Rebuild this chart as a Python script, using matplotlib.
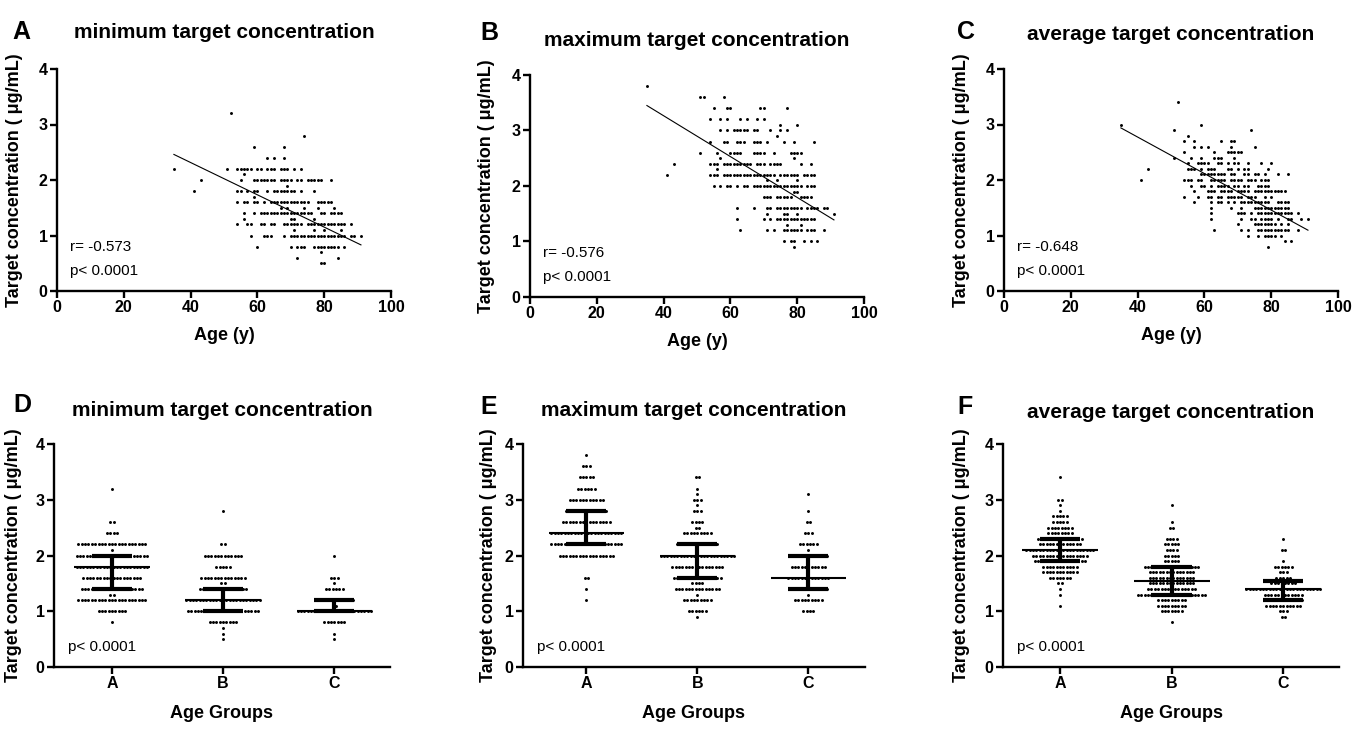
import matplotlib
matplotlib.use('Agg')
import matplotlib.pyplot as plt
import numpy as np

plt.rcParams['font.family'] = ['Liberation Sans', 'DejaVu Sans']
plt.rcParams['font.weight'] = 'bold'

# ---------------- data: scatter panels (concentration level -> ages) ----------------
min_rows = {
    3.2: [52],
    2.8: [74],
    2.6: [59, 68],
    2.4: [63, 65, 68],
    2.2: [35, 51, 54, 55, 56, 57, 58, 60, 61, 63, 64, 65, 67, 68, 69, 71, 73],
    2.1: [56],
    2.0: [43, 55, 59, 60, 61, 62, 63, 64, 65, 67, 68, 69, 70, 72, 73, 75, 76, 77, 78, 79, 82],
    1.9: [69],
    1.8: [41, 54, 55, 57, 59, 60, 63, 65, 66, 67, 68, 69, 70, 71, 73, 77],
    1.7: [59],
    1.6: [54, 56, 57, 59, 60, 62, 64, 65, 66, 67, 68, 69, 70, 71, 72, 73, 74, 75, 78, 79, 80, 81, 82],
    1.5: [67, 69, 74, 78, 83],
    1.4: [56, 59, 61, 62, 63, 64, 65, 66, 67, 68, 69, 70, 71, 72, 73, 74, 75, 76, 79, 80, 82, 83, 84, 85],
    1.3: [56, 70, 71, 77],
    1.2: [54, 57, 58, 61, 62, 64, 65, 68, 69, 70, 71, 72, 73, 75, 76, 77, 78, 79, 80, 81, 82, 83, 84, 85, 86, 88],
    1.1: [71, 77, 80, 85],
    1.0: [58, 62, 63, 64, 68, 70, 71, 72, 73, 74, 75, 76, 77, 78, 79, 80, 81, 82, 83, 84, 85, 86, 88, 89, 91],
    0.8: [60, 70, 72, 73, 74, 77, 78, 79, 80, 81, 82, 83, 84, 86],
    0.7: [79],
    0.6: [72, 84],
    0.5: [79, 80],
}

max_rows = {
    3.8: [35],
    3.6: [51, 52, 58],
    3.4: [55, 59, 60, 69, 70, 77],
    3.2: [54, 57, 59, 63, 65, 68, 70],
    3.1: [75, 80],
    3.0: [57, 59, 61, 62, 63, 64, 65, 67, 68, 72, 75, 77],
    2.9: [74],
    2.8: [54, 58, 59, 62, 63, 64, 67, 68, 69, 71, 76, 79, 85],
    2.6: [51, 56, 60, 61, 62, 63, 67, 68, 69, 70, 73, 78, 79, 80, 81],
    2.5: [57, 79],
    2.4: [43, 54, 55, 56, 58, 59, 60, 61, 62, 63, 64, 65, 66, 68, 69, 70, 72, 73, 74, 75, 81, 84],
    2.3: [56],
    2.2: [41, 54, 55, 56, 58, 59, 60, 61, 62, 63, 64, 65, 66, 67, 68, 69, 70, 71, 72, 73,
          75, 76, 77, 78, 79, 80, 82, 83, 84, 85],
    2.1: [71, 74, 80],
    2.0: [55, 57, 59, 60, 62, 64, 65, 67, 68, 69, 70, 71, 72, 73, 74, 75, 76, 77, 78, 79, 80, 81,
          83, 84, 85],
    1.9: [79, 80],
    1.8: [70, 71, 72, 74, 75, 76, 77, 78, 81, 82, 83, 84],
    1.6: [62, 67, 71, 72, 74, 75, 76, 77, 78, 79, 80, 81, 83, 84, 85, 86, 88, 89],
    1.5: [71, 76, 77, 80, 91],
    1.4: [62, 70, 72, 74, 75, 76, 77, 78, 79, 80, 81, 82, 83, 84, 85],
    1.3: [77, 81],
    1.2: [63, 71, 73, 76, 77, 78, 79, 80, 81, 83, 84, 85, 88],
    1.0: [76, 78, 79, 82, 84, 86],
    0.9: [79],
}

avg_rows = {
    3.4: [52],
    3.0: [35, 59],
    2.9: [51, 74],
    2.8: [55],
    2.7: [54, 57, 65, 68, 69],
    2.6: [57, 59, 61, 68, 75],
    2.5: [54, 63, 67, 68, 69, 70, 71],
    2.4: [51, 56, 59, 63, 64, 65, 69],
    2.3: [55, 58, 59, 60, 61, 64, 65, 67, 69, 70, 73, 77, 80],
    2.2: [43, 55, 56, 57, 59, 61, 62, 63, 67, 68, 70, 72, 73, 79],
    2.1: [59, 60, 61, 62, 63, 64, 65, 66, 68, 69, 72, 73, 75, 76, 78, 82, 85],
    2.0: [41, 54, 55, 56, 58, 59, 62, 63, 64, 65, 66, 68, 69, 70, 71, 73, 74, 75, 77, 78, 79],
    1.9: [56, 59, 60, 62, 64, 65, 66, 67, 69, 70, 72, 73, 76, 77, 78, 79],
    1.8: [57, 61, 62, 63, 65, 66, 67, 68, 70, 71, 72, 73, 75, 76, 77, 78, 79, 80, 81, 82, 83, 84],
    1.7: [54, 58, 61, 62, 64, 65, 67, 68, 69, 70, 71, 73, 74, 75, 78, 80],
    1.6: [57, 62, 64, 65, 67, 69, 71, 72, 73, 74, 75, 76, 77, 78, 79, 82, 83, 84, 85],
    1.5: [62, 68, 71, 75, 76, 77, 78, 79, 80, 81, 82, 83, 84, 85],
    1.4: [62, 70, 71, 72, 74, 76, 77, 78, 79, 80, 81, 82, 83, 84, 85, 86, 88],
    1.3: [62, 71, 74, 75, 77, 78, 79, 80, 82, 85, 86, 89, 91],
    1.2: [70, 75, 76, 77, 78, 79, 80, 81, 83, 85],
    1.1: [63, 71, 73, 76, 77, 78, 79, 80, 81, 82, 83, 84, 85, 88],
    1.0: [73, 76, 78, 79, 80, 81, 83],
    0.9: [84, 86],
    0.8: [79],
}

# linear regression (slope, intercept)
fit_min = (-0.0291, 3.479)
fit_max = (-0.0368, 4.738)
fit_avg = (-0.0329, 4.090)

r_values = ["r= -0.573", "r= -0.576", "r= -0.648"]
p_text = "p< 0.0001"

# ---------------- data: age-group dot plots (level -> count) ----------------
group_names = ["A", "B", "C"]

min_A = {3.2: 1, 2.6: 2, 2.4: 4, 2.2: 21, 2.1: 1, 2.0: 22, 1.8: 22, 1.6: 18, 1.5: 1, 1.4: 19,
         1.3: 2, 1.2: 21, 1.0: 9, 0.8: 1}
min_B = {2.8: 1, 2.2: 2, 2.0: 12, 1.8: 5, 1.6: 14, 1.5: 2, 1.4: 15, 1.3: 1, 1.2: 23, 1.1: 1,
         1.0: 22, 0.8: 9, 0.7: 1, 0.6: 1, 0.5: 1}
min_C = {2.0: 1, 1.6: 3, 1.5: 1, 1.4: 6, 1.2: 12, 1.1: 2, 1.0: 23, 0.8: 7, 0.6: 1, 0.5: 1}

max_A = {3.8: 1, 3.6: 3, 3.4: 5, 3.2: 6, 3.0: 11, 2.8: 13, 2.6: 15, 2.5: 1, 2.4: 22, 2.2: 22,
         2.0: 17, 1.6: 2, 1.4: 1, 1.2: 1}
max_B = {3.4: 2, 3.2: 1, 3.1: 1, 3.0: 3, 2.9: 1, 2.8: 3, 2.6: 4, 2.5: 2, 2.4: 9, 2.2: 13, 2.1: 1,
         2.0: 23, 1.8: 16, 1.6: 15, 1.5: 4, 1.4: 14, 1.3: 1, 1.2: 9, 1.0: 6, 0.9: 1}
max_C = {3.1: 1, 2.8: 1, 2.6: 2, 2.4: 3, 2.2: 6, 2.1: 1, 2.0: 12, 1.8: 11, 1.6: 13, 1.4: 12,
         1.3: 1, 1.2: 9, 1.0: 4}

avg_A = {3.4: 1, 3.0: 2, 2.9: 1, 2.8: 1, 2.7: 5, 2.6: 5, 2.5: 8, 2.4: 8, 2.3: 14, 2.2: 13,
         2.1: 21, 2.0: 17, 1.9: 16, 1.8: 11, 1.7: 11, 1.6: 7, 1.5: 2, 1.4: 1, 1.3: 1, 1.1: 1}
avg_B = {2.9: 1, 2.6: 1, 2.5: 2, 2.3: 4, 2.2: 5, 2.1: 4, 2.0: 5, 1.9: 5, 1.8: 17, 1.7: 14,
         1.6: 14, 1.5: 14, 1.4: 15, 1.3: 21, 1.2: 9, 1.1: 9, 1.0: 7, 0.8: 1}
avg_C = {2.3: 1, 2.1: 2, 1.9: 1, 1.8: 6, 1.7: 3, 1.6: 5, 1.5: 8, 1.4: 23, 1.3: 12, 1.2: 12,
         1.1: 11, 1.0: 3, 0.9: 2}

# (lower quartile, median, upper quartile) per group
min_summary = [(1.4, 1.8, 2.0), (1.0, 1.2, 1.4), (1.0, 1.0, 1.2)]
max_summary = [(2.2, 2.4, 2.8), (1.6, 2.0, 2.2), (1.4, 1.6, 2.0)]
avg_summary = [(1.9, 2.1, 2.3), (1.3, 1.55, 1.8), (1.2, 1.4, 1.55)]

titles = ["minimum target concentration", "maximum target concentration",
          "average target concentration"]
panel_letters = ["A", "B", "C", "D", "E", "F"]
ylabel = "Target concentration ( \u03bcg/mL)"

# ---------------- figure ----------------
W, H = 1367, 731
fig = plt.figure(figsize=(W / 100, H / 100), dpi=100)


def ax_at(l, r, t, b):
    return fig.add_axes([l / W, 1 - b / H, (r - l) / W, (b - t) / H])


def style(ax):
    for s in ['top', 'right']:
        ax.spines[s].set_visible(False)
    for s in ['left', 'bottom']:
        ax.spines[s].set_linewidth(1.7)
    ax.tick_params(width=1.7, length=4.8, labelsize=11.5, direction='out', pad=2)
    ax.set_ylim(0, 4)
    ax.set_yticks([0, 1, 2, 3, 4])


def scatter_panel(ax, rows, fit, rtxt):
    ages, conc = [], []
    for v, lst in rows.items():
        ages += lst
        conc += [v] * len(lst)
    ages = np.array(ages, float)
    conc = np.array(conc, float)
    ax.scatter(ages, conc, s=4.5, c='black', linewidths=0, zorder=3)
    slope, inter = fit
    xs = np.array([ages.min(), ages.max()])
    ax.plot(xs, slope * xs + inter, color='black', lw=0.8, zorder=2)
    ax.set_xlim(0, 100)
    ax.set_xticks([0, 20, 40, 60, 80, 100])
    style(ax)
    ax.set_xlabel("Age (y)", fontsize=13, fontweight='bold', labelpad=8)
    ax.set_ylabel(ylabel, fontsize=13, fontweight='bold')
    ax.text(0.039, 0.198, rtxt, transform=ax.transAxes, fontsize=11, fontweight='normal',
            va='center', ha='left')
    ax.text(0.039, 0.09, p_text, transform=ax.transAxes, fontsize=11, fontweight='normal',
            va='center', ha='left')


def swarm_panel(ax, groups, summary, xlim):
    spacing = 0.03
    for i, counts in enumerate(groups):
        for v, n in counts.items():
            offs = (np.arange(n) - (n - 1) / 2) * spacing
            ax.scatter(i + offs, np.full(n, v), s=4.5, c='black', linewidths=0, zorder=3)
        q1, med, q3 = summary[i]
        ax.plot([i - 0.34, i + 0.34], [med, med], color='black', lw=1.5, zorder=4,
                solid_capstyle='butt')
        ax.plot([i - 0.18, i + 0.18], [q1, q1], color='black', lw=3, zorder=4,
                solid_capstyle='butt')
        ax.plot([i - 0.18, i + 0.18], [q3, q3], color='black', lw=3, zorder=4,
                solid_capstyle='butt')
        ax.plot([i, i], [q1, q3], color='black', lw=3, zorder=4, solid_capstyle='butt')
    ax.set_xlim(*xlim)
    ax.set_xticks(range(len(group_names)))
    ax.set_xticklabels(group_names)
    style(ax)
    ax.set_xlabel("Age Groups", fontsize=13, fontweight='bold', labelpad=10)
    ax.set_ylabel(ylabel, fontsize=13, fontweight='bold')
    ax.text(0.042, 0.09, p_text, transform=ax.transAxes, fontsize=11, fontweight='normal',
            va='center', ha='left')


# top row
axA = ax_at(57, 391, 69, 291)
axB = ax_at(530, 864, 75, 297)
axC = ax_at(1004, 1338, 69, 291)
scatter_panel(axA, min_rows, fit_min, r_values[0])
scatter_panel(axB, max_rows, fit_max, r_values[1])
scatter_panel(axC, avg_rows, fit_avg, r_values[2])

# bottom row
axD = ax_at(54, 390, 444, 667)
axE = ax_at(523, 865, 444, 667)
axF = ax_at(1003, 1339, 444, 667)
swarm_panel(axD, [min_A, min_B, min_C], min_summary, (-0.52, 2.5))
swarm_panel(axE, [max_A, max_B, max_C], max_summary, (-0.57, 2.51))
swarm_panel(axF, [avg_A, avg_B, avg_C], avg_summary, (-0.51, 2.5))

# y-label positions (pixels left of spine)
for ax, (l, r), off in [(axA, (57, 391), 34), (axB, (530, 864), 35), (axC, (1004, 1338), 34),
                        (axD, (54, 390), 32), (axE, (523, 865), 26), (axF, (1003, 1339), 33)]:
    ax.yaxis.set_label_coords(-off / (r - l), 0.5)

# titles
title_pos = [((57 + 391) / 2, 32), ((530 + 864) / 2, 40), ((1004 + 1338) / 2, 34),
             ((54 + 390) / 2, 410), ((523 + 865) / 2, 410), ((1003 + 1339) / 2, 412)]
for k, (x, y) in enumerate(title_pos):
    fig.text(x / W, 1 - y / H, titles[k % 3], fontsize=15, fontweight='bold',
             ha='center', va='center')

letter_pos = [(12, 32), (480, 33), (957, 32), (13, 405), (480, 407), (957, 407)]
for k, (x, y) in enumerate(letter_pos):
    fig.text(x / W, 1 - y / H, panel_letters[k], fontsize=18, fontweight='bold',
             ha='left', va='center')

fig.savefig("out.png", dpi=100)
